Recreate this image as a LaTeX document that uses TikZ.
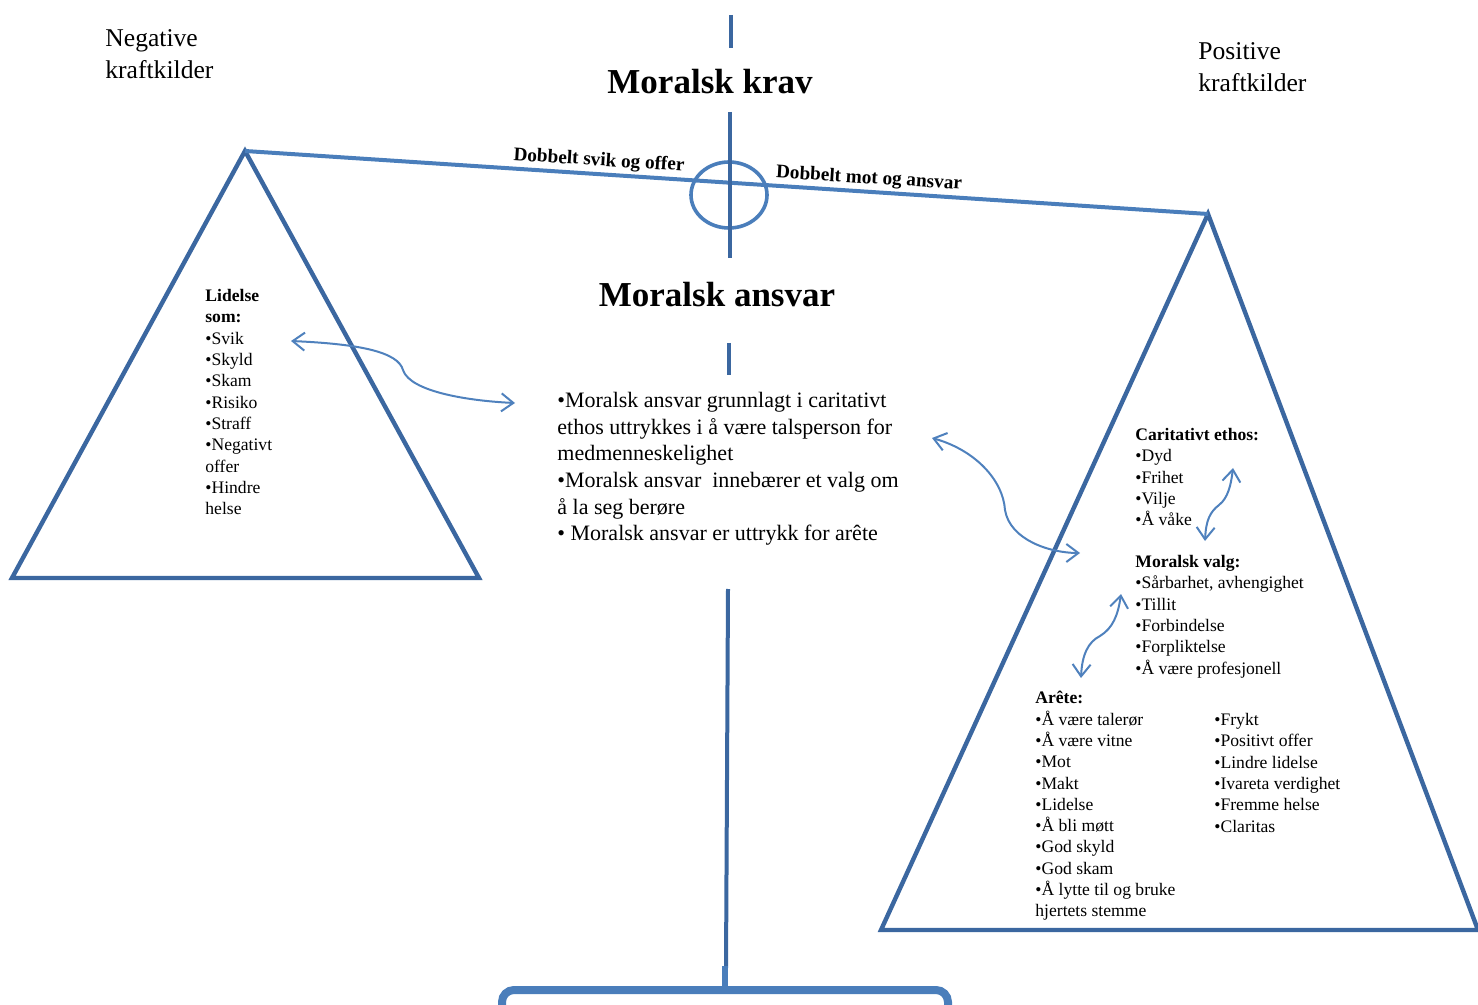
\documentclass[tikz,border=0pt]{standalone}
\usepackage{fontspec}
\setmainfont{Liberation Serif}
\usetikzlibrary{arrows.meta}
\definecolor{vektblue}{HTML}{3B67A0}
\definecolor{beamblue}{HTML}{4A7EBB}
\definecolor{arrowblue}{HTML}{4F81BD}

\tikzset{
  vekt/.style={vektblue,line width=2.2pt,line join=miter},
  stang/.style={vektblue,line width=2pt},
  bjelke/.style={beamblue,line width=2pt},
  pil/.style={arrowblue,line width=1pt,
    {Straight Barb[length=6pt,width=9pt]}-{Straight Barb[length=6pt,width=9pt]}},
  liste/.style={anchor=north west,inner sep=0pt,align=left,
    font=\fontsize{8.8}{10.65}\selectfont},
  tittel/.style={inner sep=0pt,font=\bfseries\fontsize{17.5}{20}\selectfont},
  skala/.style={anchor=north west,inner sep=0pt,align=left,
    font=\fontsize{12.8}{16}\selectfont},
  bjelketekst/.style={inner sep=0pt,rotate=-3.6,font=\bfseries\fontsize{9.6}{11}\selectfont}
}

\begin{document}
\begin{tikzpicture}[x=0.5pt,y=-0.5pt]
  \useasboundingbox (0,0) rectangle (1478,1005);

  \coordinate (venstre-topp) at (245,151);
  \coordinate (hoyre-topp) at (1208,214);

  \draw[vekt] (venstre-topp) -- (12,578) -- (479,578) -- cycle;
  \draw[vekt] (hoyre-topp) -- (881,930) -- (1478,930) -- cycle;
  \draw[bjelke] (venstre-topp) -- (hoyre-topp);
  \draw[bjelke,line width=1.8pt] (729,195) ellipse [x radius=19pt,y radius=16.5pt];

  \draw[stang] (731,15) -- (731,48);
  \draw[stang] (730,112) -- (730,258);
  \draw[stang] (729,343) -- (729,375);
  \draw[stang] (728,589) -- (726,968);
  \draw[beamblue,line width=3pt] (725,966) -- (725,990);
  \draw[beamblue,line width=4pt,rounded corners=6pt] (502,1015) -- (502,990) -- (948,990) -- (948,1015);

  \node[skala] (negativ) at (105,29) {Negative\\kraftkilder};
  \node[skala] (positiv) at (1198,42) {Positive\\kraftkilder};
  \node[tittel] (krav) at (710,82) {Moralsk krav};
  \node[tittel] (ansvar) at (717,295) {Moralsk ansvar};
  \node[bjelketekst] (svik) at (599,161) {Dobbelt svik og offer};
  \node[bjelketekst] (mot) at (869,179) {Dobbelt mot og ansvar};

  \node[liste] (lidelse) at (205,289) {\textbf{Lidelse}\\\textbf{som:}\\•Svik\\•Skyld\\•Skam\\•Risiko\\•Straff\\•Negativt\\offer\\•Hindre\\helse};

  \node[liste,font=\fontsize{11}{13.3}\selectfont] (midt) at (557,392)
    {•Moralsk ansvar grunnlagt i caritativt\\ethos uttrykkes i å være talsperson for\\medmenneskelighet\\•Moralsk ansvar \ innebærer et valg om\\å la seg berøre\\• Moralsk ansvar er uttrykk for arête};

  \node[liste] (ethos) at (1135,428) {\textbf{Caritativt ethos:}\\•Dyd\\•Frihet\\•Vilje\\•Å våke};
  \node[liste] (valg) at (1135,555) {\textbf{Moralsk valg:}\\•Sårbarhet, avhengighet\\•Tillit\\•Forbindelse\\•Forpliktelse\\•Å være profesjonell};
  \node[liste] (arete) at (1035,691) {\textbf{Arête:}\\•Å være talerør\\•Å være vitne\\•Mot\\•Makt\\•Lidelse\\•Å bli møtt\\•God skyld\\•God skam\\•Å lytte til og bruke\\hjertets stemme};
  \node[liste] (arete2) at (1214,713) {•Frykt\\•Positivt offer\\•Lindre lidelse\\•Ivareta verdighet\\•Fremme helse\\•Claritas};

  \coordinate (svik-pil) at (291,341);
  \coordinate (midt-pil) at (515,403);
  \coordinate (midt-hoyre) at (932,438);
  \coordinate (valg-pil) at (1080,553);
  \coordinate (arete-pil) at (1081,678);
  \coordinate (tillit-pil) at (1121,594);
  \coordinate (vake-pil) at (1205,541);
  \coordinate (frihet-pil) at (1233,468);

  \draw[pil] (svik-pil) .. controls (360,344) and (398,352) .. (403,370)
    .. controls (410,392) and (470,401) .. (midt-pil);
  \draw[pil] (midt-hoyre) .. controls (975,450) and (1003,480) .. (1005,510)
    .. controls (1010,540) and (1050,553) .. (valg-pil);
  \draw[pil] (arete-pil) .. controls (1082,655) and (1088,642) .. (1100,636)
    .. controls (1113,628) and (1118,615) .. (tillit-pil);
  \draw[pil] (vake-pil) .. controls (1206,520) and (1210,512) .. (1219,505)
    .. controls (1228,498) and (1231,485) .. (frihet-pil);
\end{tikzpicture}
\end{document}
